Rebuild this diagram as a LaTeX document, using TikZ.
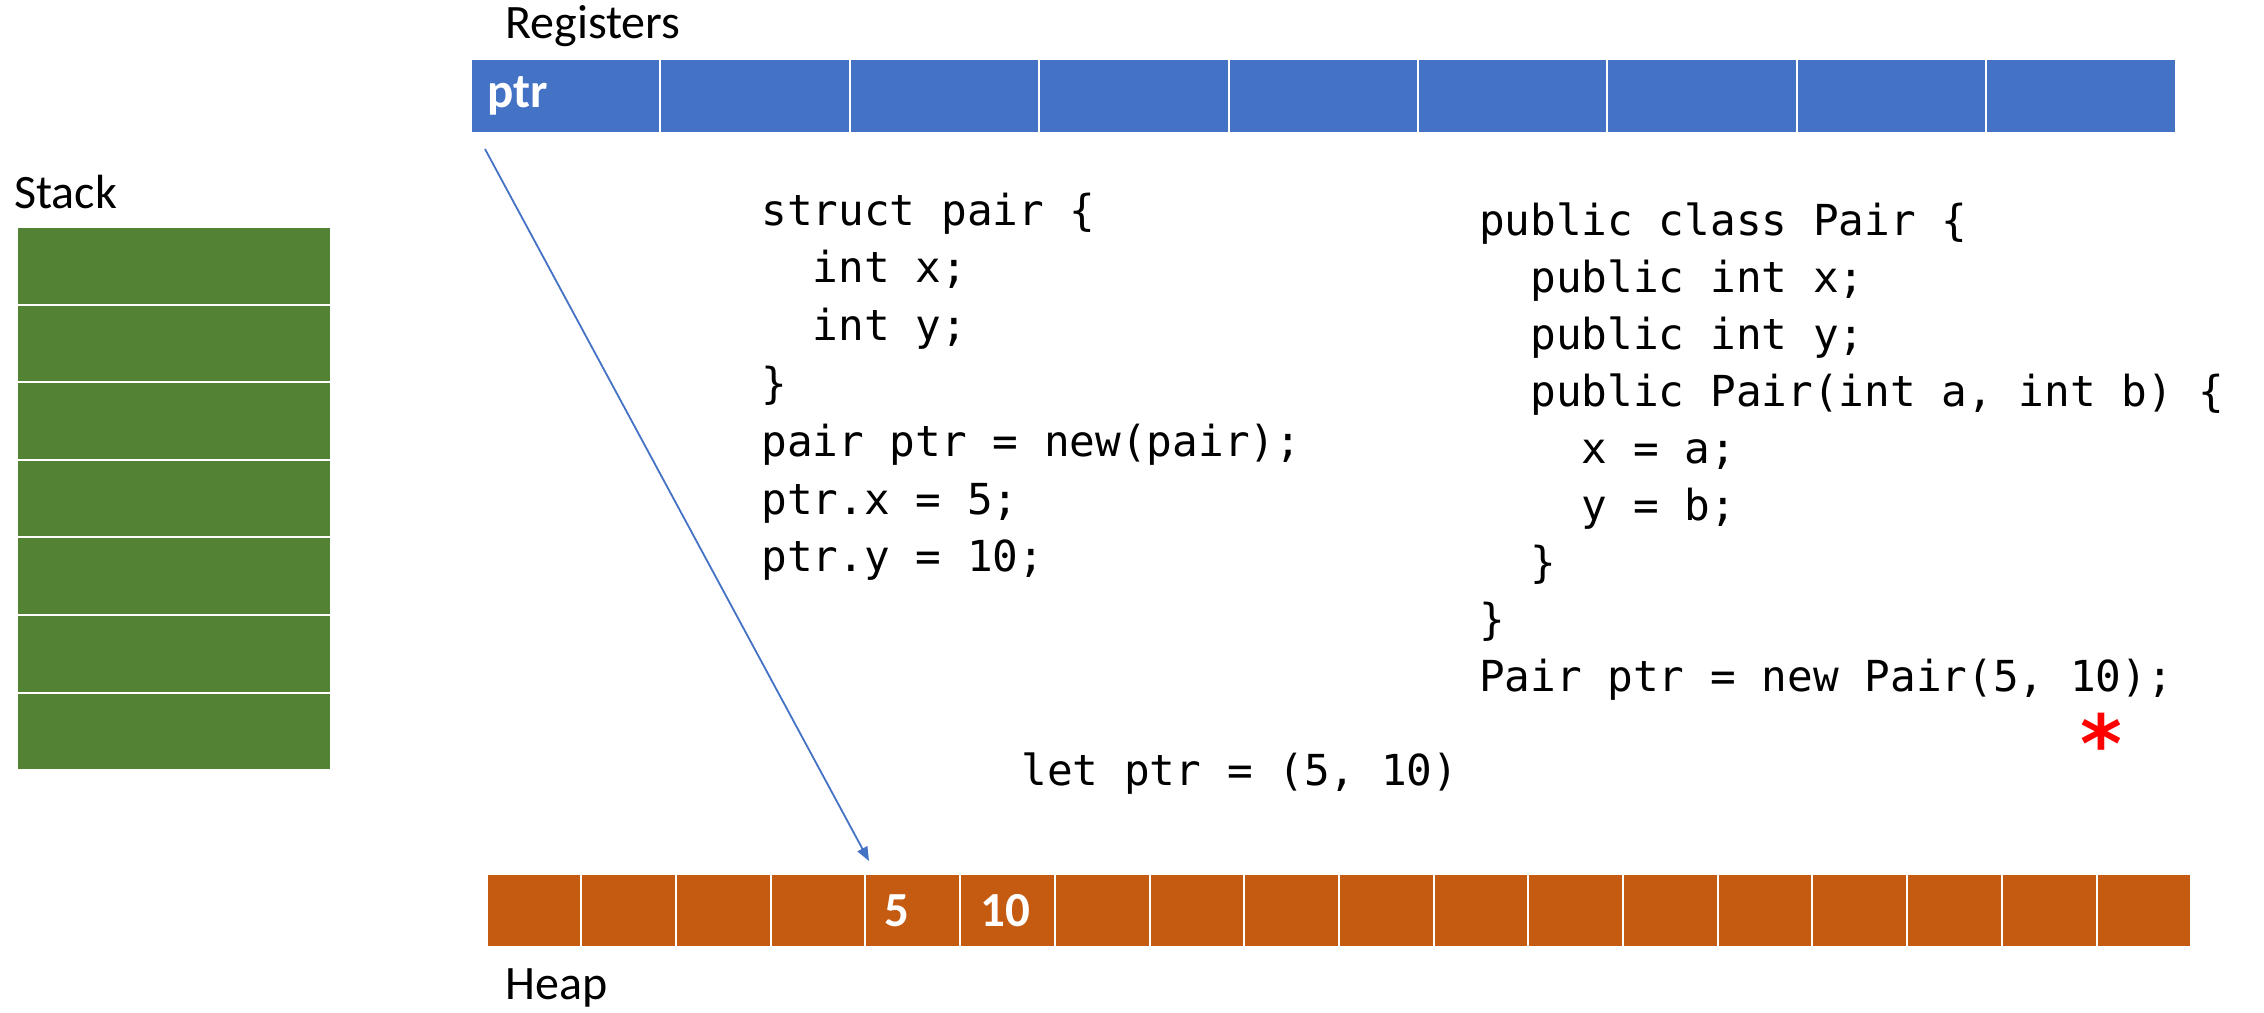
\documentclass[tikz,border=0pt]{standalone}
\usepackage{fontspec}
\setmainfont{Carlito}
\newfontfamily\codefont{DejaVu Sans Mono}
\newfontfamily\starfont{DejaVu Sans}
\usetikzlibrary{arrows.meta}
\definecolor{regblue}{HTML}{4472C4}
\definecolor{stackgreen}{HTML}{548235}
\definecolor{heaporange}{HTML}{C55A11}
\definecolor{starred}{HTML}{FF0000}
\tikzset{
  cell/.style={draw=white, line width=1pt, inner sep=0pt, outer sep=0pt, anchor=north west},
  regcell/.style={cell, fill=regblue, minimum width=94.7pt, minimum height=37pt},
  heapcell/.style={cell, fill=heaporange, minimum width=47.35pt, minimum height=36.8pt},
  stackcell/.style={cell, fill=stackgreen, minimum width=157pt, minimum height=38.8pt},
  lbl/.style={inner sep=0pt, anchor=west, font=\fontsize{24}{28}\selectfont},
  celltext/.style={inner sep=0pt, anchor=west, text=white, font=\fontsize{24.5}{28}\selectfont\bfseries},
  code/.style={inner sep=0pt, anchor=base west, font=\codefont\fontsize{21.35}{26}\selectfont},
  ptrarrow/.style={draw=regblue, line width=0.9pt, -{Triangle[length=7pt,width=5.5pt]}}
}
\begin{document}
\begin{tikzpicture}[x=0.5pt, y=-0.5pt]
\useasboundingbox (0,0) rectangle (2264,1012);

% registers row
\foreach \i in {1,...,9}
  \node[regcell] (r\i) at ({471+189.4*(\i-1)}, 59) {};
\node[lbl] (reglbl) at (505,26) {Registers};
\node[celltext] (ptrtxt) at ([xshift=8pt]r1.west) {ptr};

% stack column
\foreach \i in {1,...,7}
  \node[stackcell] (s\i) at (17, {227+77.6*(\i-1)}) {};
\node[lbl] (stacklbl) at (14,192) {Stack};

% heap row
\foreach \i in {1,...,18}
  \node[heapcell] (h\i) at ({486.6+94.7*(\i-1)}, 873.6) {};
\node[lbl] (heaplbl) at (505,988) {Heap};
\node[celltext] (five) at ([xshift=9.5pt]h5.west) {5};
\node[celltext] (ten) at ([xshift=10pt]h6.west) {10};

% C version
\foreach \t [count=\i] in {{struct pair \{}, {\phantom{xx}int x;}, {\phantom{xx}int y;}, {\}},
    {pair ptr = new(pair);}, {ptr.x = 5;}, {ptr.y = 10;}}
  \node[code] (c\i) at (761, {225+57.8*(\i-1)}) {\t};

% Java version
\foreach \t [count=\i] in {{public class Pair \{}, {\phantom{xx}public int x;}, {\phantom{xx}public int y;},
    {\phantom{xx}public Pair(int a, int b) \{}, {\phantom{xxxx}x = a;}, {\phantom{xxxx}y = b;},
    {\phantom{xx}\}}, {\}}, {Pair ptr = new Pair(5, 10);}}
  \node[code] (j\i) at (1478.6, {235+57*(\i-1)}) {\t};

% tuple version
\node[code] (letline) at (1021,785) {let ptr = (5, 10)};

\node[inner sep=0pt, anchor=base, text=starred, font=\starfont\bfseries\fontsize{40}{44}\selectfont] (star) at (2101,772) {*};

% pointer from register to heap
\draw[ptrarrow] ([xshift=7pt,yshift=-8pt]r1.south west) -- ([xshift=1.8pt,yshift=6.3pt]h5.north west);
\end{tikzpicture}
\end{document}
